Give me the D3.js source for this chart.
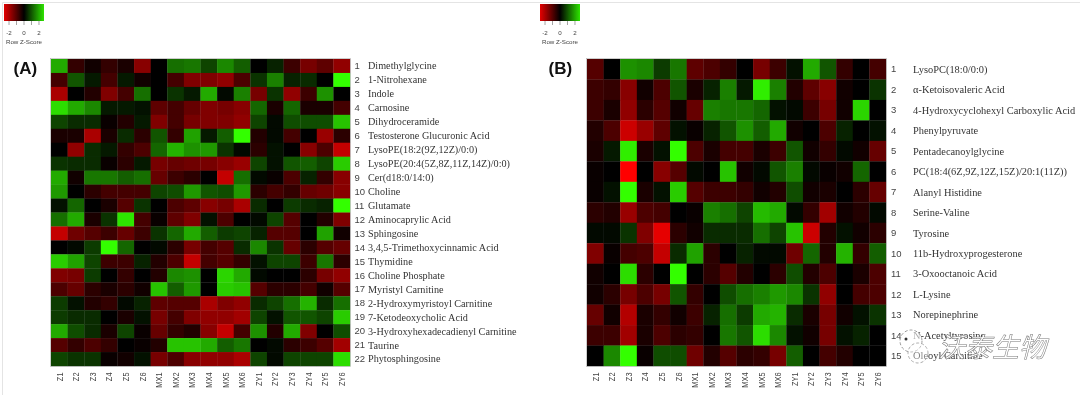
<!DOCTYPE html>
<html lang="en">
<head>
    <meta charset="UTF-8">
    <title>Metabolite heatmaps</title>
    <style>
        html, body { margin: 0; background: #fff; }
        svg { display: block; filter: blur(0.45px); }
        .num { font-family: "Liberation Sans", Arial, sans-serif; font-size: 9.5px; fill: #444; }
        .name { font-family: "Liberation Serif", "Times New Roman", serif; fill: #333; }
        .col text { font-family: "Liberation Sans", Arial, sans-serif; font-size: 9.5px; fill: #444; }
        .key text { font-family: "Liberation Sans", Arial, sans-serif; font-size: 6.2px; fill: #444; }
        .key line { stroke: #666; stroke-width: 0.6px; }
        .panel { font-family: "Liberation Sans", Arial, sans-serif; font-size: 17px; font-weight: bold; fill: #111; }
    </style>
</head>
<body>
    <svg width="1080" height="395"></svg>
    <script src="https://d3js.org/d3.v7.min.js"></script>
    <script>
        const samples = ["Z1","Z2","Z3","Z4","Z5","Z6","MX1","MX2","MX3","MX4","MX5","MX6","ZY1","ZY2","ZY3","ZY4","ZY5","ZY6"];
        const keyTicks = [-2, 0, 2];
        const keyMinorTicks = [-2, -1, 0, 1, 2];

        const namesA = ["Dimethylglycine","1-Nitrohexane","Indole","Carnosine","Dihydroceramide","Testosterone Glucuronic Acid",
            "LysoPE(18:2(9Z,12Z)/0:0)","LysoPE(20:4(5Z,8Z,11Z,14Z)/0:0)","Cer(d18:0/14:0)","Choline","Glutamate","Aminocaprylic Acid",
            "Sphingosine","3,4,5-Trimethoxycinnamic Acid","Thymidine","Choline Phosphate","Myristyl Carnitine","2-Hydroxymyristoyl Carnitine",
            "7-Ketodeoxycholic Acid","3-Hydroxyhexadecadienyl Carnitine","Taurine","Phytosphingosine"];
        const valuesA = [
            [2.0,-0.6,-0.2,-0.6,-0.3,-1.6,0,1.3,1.4,0.8,1.6,1.1,0,0.4,-0.7,-1.4,-1.1,-1.7],
            [-0.8,1.0,0.3,-0.8,0.3,-0.2,0,-0.8,-1.5,-1.5,-1.7,-0.9,0.6,1.5,0.4,0.5,0,3.0],
            [-2.0,0,-0.4,-1.5,-0.8,1.3,0,0.6,0.3,2.0,0.1,1.5,-1.4,0.6,-1.7,-0.7,1.7,0],
            [2.6,2.0,1.6,0.3,0.3,0.2,-1.1,-0.8,-1.2,-1.5,-1.4,-1.6,1.2,-0.3,1.2,-0.3,-0.3,-0.8],
            [0.8,0.5,0.5,-0.1,-0.4,0.3,-1.5,-0.8,-1.4,-1.5,-1.5,-1.7,0.8,0.1,0.9,0.9,0.9,2.3],
            [-0.3,-0.3,-2.0,-0.3,0.5,-0.5,1.0,-0.6,1.9,0.3,1.1,3.0,-0.4,0.1,-0.8,0,-1.8,-0.5],
            [0,-1.7,0.5,0.3,-0.6,-0.9,1.2,2.1,1.7,1.8,0.6,0.1,-0.5,0.2,0,-1.6,-0.9,-2.3],
            [0.6,0.5,0.5,-0.1,-0.5,0.3,-1.4,-1.2,-1.3,-1.4,-1.6,-1.8,0.8,0.2,1.0,1.1,0.8,2.4],
            [2.0,-0.2,1.4,1.4,1.1,1.3,-1.2,-0.7,-0.5,0,-2.3,1.3,0.1,-0.1,-0.9,0.4,-0.6,-1.6],
            [1.8,0,-0.5,-0.8,-0.8,-0.8,0.8,0.9,1.8,1.0,0.9,1.8,-0.5,-0.8,-0.6,-1.2,-1.3,-1.6],
            [0.2,1.2,0,-0.3,-1.0,0.6,0,-0.9,-1.1,-1.6,-1.4,-2.0,0.5,0,0.7,0.5,0.4,3.0],
            [1.3,2.0,-0.3,0.6,2.7,-0.8,-0.1,-1.1,-1.5,0.2,-0.9,0,0.1,0.8,-1.0,0,-0.4,-1.5],
            [-2.3,-1.3,-1.0,-0.7,-1.2,-0.7,0.6,1.2,2.0,1.1,0.7,0.8,0.4,-1.0,-1.0,0,1.9,-0.2],
            [0,0.1,0.7,3.0,1.2,0,0.1,-0.5,-1.4,-0.8,-1.0,0.5,1.6,0.6,-1.2,-0.5,-1.0,-1.2],
            [2.4,1.9,0.8,-0.7,-0.7,0.4,-0.4,-0.9,-2.3,-0.8,-1.0,-0.6,0.2,0.8,0.8,-0.7,1.4,-0.5],
            [-1.5,-1.4,0.7,0,-0.6,0,-0.4,1.6,1.7,0,2.5,2.0,0.1,0,0,-0.5,-1.4,-1.7],
            [-0.9,-1.2,-0.5,-0.3,-0.5,-0.2,2.3,1.1,1.8,0,2.4,2.3,-1.0,-0.5,-0.5,-0.8,-0.2,-1.0],
            [0.7,0.2,-0.4,-0.6,0.1,0.4,-1.1,-1.0,-1.0,-2.0,-1.5,-1.7,0.5,0.8,1.3,2.1,0.5,1.3],
            [0.7,0.5,0.5,0,-0.3,0.2,-1.4,-0.8,-1.5,-1.7,-1.7,-1.9,0.8,0.2,1.0,1.0,0.8,2.4],
            [2.0,0.9,0.5,-0.3,0.8,-0.1,-1.2,-0.6,-0.4,-1.6,-2.3,-0.8,1.7,-0.4,2.0,-1.5,0,0.9],
            [-1.0,-0.6,-0.9,-0.6,0,-0.1,-0.4,2.3,2.3,2.0,1.1,1.4,0,0.1,-0.5,-0.7,-1.0,-1.9],
            [0.8,0.6,0.6,-0.1,-0.2,0.2,-1.4,-0.9,-1.6,-1.7,-1.7,-2.0,0.8,0.1,0.8,0.8,0.8,2.6]
        ];

        const namesB = ["LysoPC(18:0/0:0)","α-Ketoisovaleric Acid","4-Hydroxycyclohexyl Carboxylic Acid","Phenylpyruvate","Pentadecanoylglycine",
            "PC(18:4(6Z,9Z,12Z,15Z)/20:1(11Z))","Alanyl Histidine","Serine-Valine","Tyrosine","11b-Hydroxyprogesterone","3-Oxooctanoic Acid",
            "L-Lysine","Norepinephrine","N-Acetyltyrosine","Oleoyl Carnitine"];
        const valuesB = [
            [-1.0,0,1.7,1.6,0.7,1.4,-1.1,-0.9,-0.6,0,-1.4,-0.7,0.2,2.0,1.0,-0.6,0,-0.8],
            [-0.7,-0.6,-1.6,-0.2,-0.9,1.0,-0.3,0.4,1.5,0.3,2.8,1.5,-0.4,-1.1,-1.6,-0.2,0,0.6],
            [-0.7,-0.3,-1.7,-0.5,-1.0,-0.2,-1.2,1.5,1.4,1.4,1.2,0.2,0.1,-0.7,-1.4,-0.2,2.5,0],
            [-0.4,-0.9,-2.4,-1.8,-1.1,0.2,-0.1,0.4,1.0,1.7,1.1,2.0,-0.2,0,-0.9,0.4,0,0.2],
            [-0.3,0.3,2.8,-0.3,0.2,3.0,-0.9,-0.3,-0.8,-0.8,-0.3,-0.7,1.0,-0.2,-0.6,0.1,-0.2,-1.2],
            [-0.1,0,-3.0,0,-1.6,-1.0,0.1,0,2.3,-0.2,0.1,1.0,1.5,0.1,-0.1,-0.2,1.2,0],
            [-0.1,0.2,3.0,-0.3,0.2,2.4,-1.0,-0.7,-0.7,-0.6,-0.2,-0.4,0.9,-0.2,-0.3,0,-0.5,-1.2],
            [-0.5,-0.4,-1.8,-0.9,-0.8,0,-0.1,1.5,1.3,0.8,2.2,2.0,0.1,-0.6,-1.9,-0.2,-0.4,0.1],
            [0.1,0.1,0.6,-1.5,-2.7,-0.5,-0.2,0.5,0.5,0.5,1.3,0.8,2.3,-2.4,-0.4,0.2,-0.2,-0.5],
            [-1.5,-0.1,-0.8,-0.9,-2.3,0.5,1.9,-0.5,0,0.4,0.1,0.1,-1.3,1.2,-0.4,2.1,-0.6,1.1],
            [-0.2,0,2.6,-0.5,0,3.0,0,-0.5,-1.0,-0.4,0,-0.5,0.9,-0.4,-0.9,0,-0.3,-0.9],
            [-0.2,-0.5,-1.4,-0.9,-1.4,1.0,-0.6,0,0.9,1.3,1.5,1.8,1.6,0.6,-1.7,0,-0.8,-0.9],
            [-1.2,-0.2,-2.1,-0.3,-0.6,-0.2,-0.7,0.4,1.3,0.7,2.0,2.1,0.5,-0.3,-1.4,-0.2,0.2,0.6],
            [-0.7,-0.7,-1.9,-0.3,-0.9,-0.5,-0.6,0,1.4,1.0,2.6,1.6,0.2,-0.2,-1.4,0.2,0.4,0],
            [0,1.6,3.0,-0.1,0.9,0.9,-1.3,-0.4,-1.0,-0.5,-0.6,-1.4,1.1,0,-0.8,-0.4,0,0]
        ];

        const svg = d3.select("svg");
        const color = d3.scaleLinear().domain([-3, 0, 3]).range(["#ff0000", "#000000", "#33ff00"]).clamp(true);

        // outer frame of the screenshot
        svg.append("path").attr("d", "M2.5,395V2.5H1080").attr("fill", "none").attr("stroke", "#e4e4e4");

        function drawKey(id, x0) {
            const kx = d3.scaleLinear().domain([-2.67, 2.67]).range([x0, x0 + 40]);
            const stops = d3.range(0, 1.001, 0.1);
            const grad = svg.append("defs").append("linearGradient").attr("id", id);
            grad.selectAll("stop").data(stops).enter().append("stop")
                .attr("offset", d => d)
                .attr("stop-color", d => color(-2.67 + d * 5.34));
            const g = svg.append("g").attr("class", "key");
            g.append("rect").attr("x", x0).attr("y", 4).attr("width", 40).attr("height", 17)
                .attr("fill", "url(#" + id + ")");
            g.selectAll("line").data(keyMinorTicks).enter().append("line")
                .attr("x1", d => kx(d)).attr("x2", d => kx(d)).attr("y1", 21).attr("y2", 25);
            g.selectAll("text.t").data(keyTicks).enter().append("text")
                .attr("class", "t")
                .attr("x", d => kx(d)).attr("y", 35)
                .attr("text-anchor", "middle")
                .text(d => d);
            g.append("text").attr("x", x0 + 20).attr("y", 44).attr("text-anchor", "middle").text("Row Z-Score");
        }

        function drawHeatmap(names, values, opt) {
            const x = d3.scaleBand().domain(samples).range([opt.left, opt.right]);
            const y = d3.scaleBand().domain(d3.range(names.length)).range([59, 366]);
            const g = svg.append("g");
            g.selectAll("g").data(values).enter().append("g")
                .selectAll("rect").data((row, i) => row.map((v, j) => ({ v: v, i: i, j: j })))
                .enter().append("rect")
                .attr("x", d => x(samples[d.j]))
                .attr("y", d => y(d.i))
                .attr("width", x.bandwidth() + 0.3)
                .attr("height", y.bandwidth() + 0.3)
                .attr("fill", d => color(d.v));
            g.append("rect").attr("x", opt.left - 0.5).attr("y", 58.5)
                .attr("width", opt.right - opt.left + 1).attr("height", 308)
                .attr("fill", "none").attr("stroke", "#b8b8b8").attr("stroke-width", 0.7);

            // the column labels are squeezed along their length in the original
            const axis = svg.append("g").attr("class", "col")
                .attr("transform", "translate(0,366)")
                .call(d3.axisBottom(x).tickSize(0));
            axis.select(".domain").remove();
            axis.selectAll("text")
                .attr("transform", "rotate(-90) translate(-6.5,0) scale(0.78,1)")
                .attr("text-anchor", "end")
                .attr("x", 0).attr("y", 0).attr("dy", "0.34em");

            const labels = svg.append("g");
            labels.selectAll("text.num").data(names).enter().append("text")
                .attr("class", "num")
                .attr("x", opt.numX)
                .attr("y", (d, i) => y(i) + y.bandwidth() / 2)
                .attr("dy", "0.34em")
                .text((d, i) => i + 1);
            labels.selectAll("text.name").data(names).enter().append("text")
                .attr("class", "name")
                .attr("x", opt.nameX)
                .attr("y", (d, i) => y(i) + y.bandwidth() / 2)
                .attr("dy", "0.34em")
                .attr("font-size", opt.nameSize)
                .text(d => d);
            svg.append("text").attr("class", "panel").attr("x", opt.panelX).attr("y", 74).text(opt.panel);
        }

        drawKey("keyA", 4);
        drawKey("keyB", 540);
        drawHeatmap(namesA, valuesA, { left: 51, right: 350, numX: 354.5, nameX: 368, nameSize: 10.2, panel: "(A)", panelX: 13.5 });
        drawHeatmap(namesB, valuesB, { left: 587, right: 886, numX: 891, nameX: 913, nameSize: 10.4, panel: "(B)", panelX: 548.5 });

        // watermark over the last two labels of panel B
        const mark = svg.append("g");
        mark.append("circle").attr("cx", 911).attr("cy", 341).attr("r", 11)
            .attr("fill", "#fff").attr("fill-opacity", 0.6).attr("stroke", "#999").attr("stroke-dasharray", "3,2");
        mark.append("circle").attr("cx", 918).attr("cy", 353).attr("r", 10)
            .attr("fill", "#fff").attr("fill-opacity", 0.4).attr("stroke", "#aaa").attr("stroke-dasharray", "3,2");
        mark.append("circle").attr("cx", 906).attr("cy", 339).attr("r", 1.5).attr("fill", "#333");
        mark.append("text").attr("x", 938).attr("y", 357)
            .attr("font-family", "'Noto Sans CJK SC'").attr("font-size", 27).attr("font-style", "italic")
            .attr("fill", "#fff").attr("stroke", "#777").attr("stroke-width", 0.5)
            .text("沃泰生物");
    </script>
</body>
</html>
